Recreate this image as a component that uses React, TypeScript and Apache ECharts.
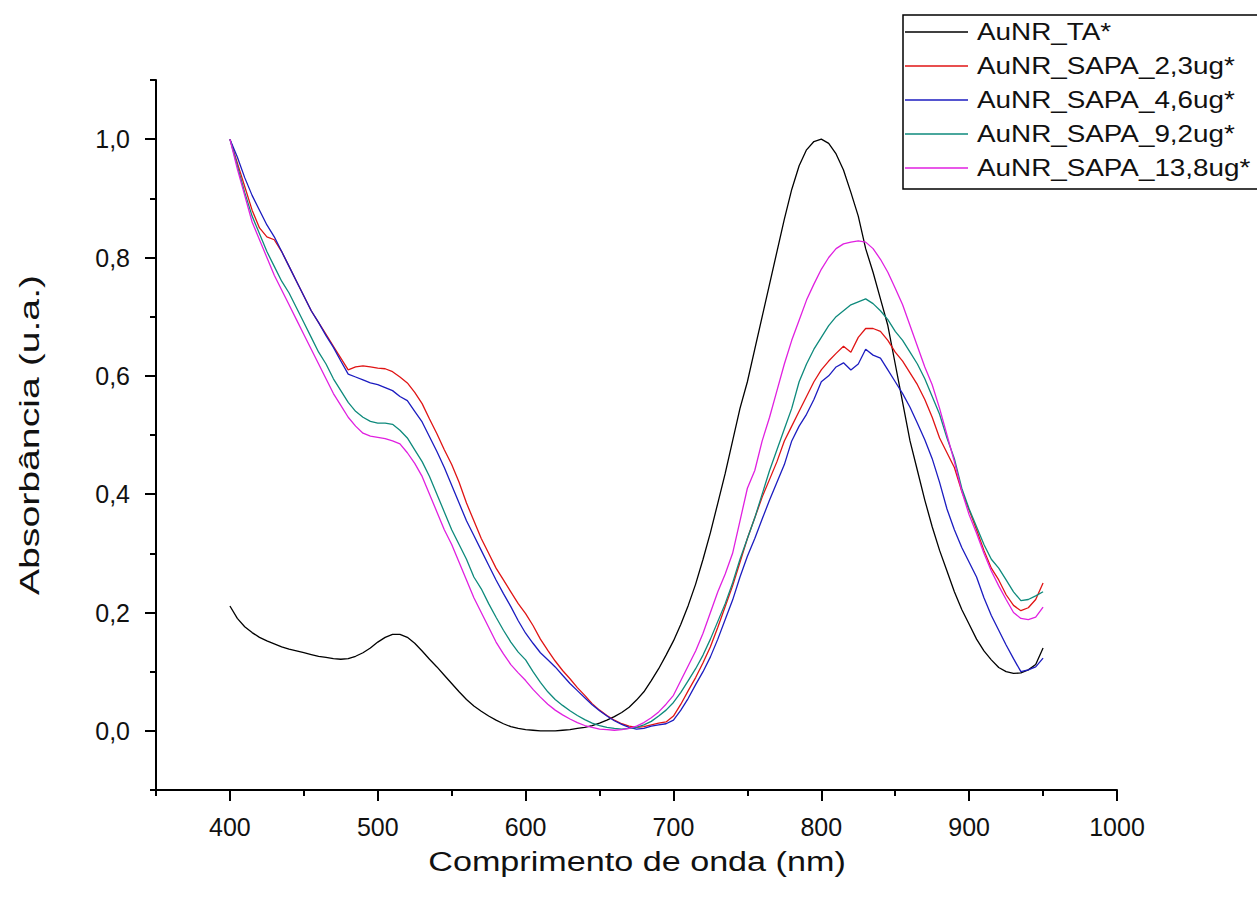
import React, { useEffect, useRef } from "react";
import * as echarts from "echarts";

const wavelengths: number[] = [];
for (let w = 400; w <= 950; w += 5) wavelengths.push(w);

const seriesNames = [
  "AuNR_TA*",
  "AuNR_SAPA_2,3ug*",
  "AuNR_SAPA_4,6ug*",
  "AuNR_SAPA_9,2ug*",
  "AuNR_SAPA_13,8ug*",
];
const seriesColors = ["#000000", "#e01414", "#1c1cc0", "#0e8a7c", "#e020e0"];

// 400..950 step 5
const taValues = [
  0.211, 0.19, 0.176, 0.166, 0.158, 0.152, 0.147, 0.142, 0.138, 0.135,
  0.132, 0.129, 0.126, 0.124, 0.122, 0.121, 0.122, 0.126, 0.132, 0.14,
  0.15, 0.158, 0.163, 0.163, 0.158, 0.148, 0.135, 0.121, 0.108, 0.094,
  0.08, 0.066, 0.053, 0.042, 0.033, 0.025, 0.018, 0.012, 0.007, 0.004,
  0.002, 0.001, 0.0, 0.0, 0.0, 0.001, 0.002, 0.004, 0.006, 0.009,
  0.013, 0.018, 0.024, 0.031, 0.04, 0.052, 0.066, 0.085, 0.105, 0.128,
  0.152, 0.18, 0.212, 0.248, 0.29, 0.335, 0.385, 0.435, 0.49, 0.545,
  0.59, 0.645, 0.7, 0.755, 0.81, 0.865, 0.915, 0.955, 0.982, 0.996,
  1.0, 0.993, 0.975, 0.948, 0.91, 0.87, 0.815, 0.775, 0.73, 0.685,
  0.62, 0.555, 0.49, 0.44, 0.39, 0.345, 0.305, 0.27, 0.235, 0.205,
  0.18, 0.155, 0.135, 0.12, 0.107, 0.1, 0.097, 0.098, 0.103, 0.112,
  0.14,
];
const sapa23Values = [
  1.0, 0.96, 0.92, 0.88, 0.85, 0.835, 0.83, 0.81, 0.785, 0.76,
  0.735, 0.71, 0.69, 0.67, 0.65, 0.63, 0.61, 0.615, 0.617, 0.615,
  0.613, 0.612, 0.607, 0.598, 0.588, 0.572, 0.553, 0.527, 0.502, 0.475,
  0.45, 0.42, 0.385, 0.355, 0.325, 0.3, 0.275, 0.255, 0.235, 0.215,
  0.198, 0.178, 0.155, 0.136, 0.118, 0.102, 0.088, 0.073, 0.06, 0.046,
  0.035, 0.026, 0.018, 0.012, 0.008, 0.006, 0.007, 0.01, 0.013, 0.015,
  0.025, 0.045, 0.068, 0.09, 0.115, 0.142, 0.175, 0.21, 0.245, 0.285,
  0.325, 0.36, 0.395, 0.425, 0.455, 0.49, 0.515, 0.54, 0.565, 0.59,
  0.61, 0.625, 0.638, 0.65, 0.64, 0.665, 0.68, 0.68, 0.675, 0.66,
  0.64, 0.625, 0.605, 0.585, 0.56, 0.53, 0.495, 0.47, 0.445, 0.405,
  0.373, 0.34, 0.305, 0.275, 0.255, 0.23, 0.212, 0.203, 0.208, 0.222,
  0.25,
];
const sapa46Values = [
  1.0, 0.97, 0.935, 0.905, 0.88, 0.855, 0.835, 0.81, 0.785, 0.76,
  0.735, 0.71, 0.69, 0.668, 0.648, 0.625, 0.603, 0.598, 0.593, 0.588,
  0.585, 0.58, 0.575, 0.565, 0.558, 0.54, 0.522, 0.497, 0.472, 0.445,
  0.415, 0.385, 0.355, 0.33, 0.305, 0.28, 0.255, 0.232, 0.21, 0.186,
  0.165, 0.148, 0.132, 0.12, 0.108, 0.094, 0.08, 0.068, 0.056, 0.044,
  0.034, 0.025, 0.017, 0.011, 0.006, 0.003, 0.004, 0.008, 0.01, 0.012,
  0.018, 0.035, 0.055, 0.078, 0.1, 0.125, 0.155, 0.188, 0.221, 0.26,
  0.295, 0.325, 0.358, 0.39, 0.42, 0.45, 0.49, 0.515, 0.535, 0.56,
  0.59, 0.6, 0.615, 0.622, 0.61, 0.62, 0.645, 0.635, 0.63, 0.61,
  0.59, 0.57, 0.547, 0.52, 0.492, 0.46, 0.42, 0.375, 0.34, 0.31,
  0.285, 0.26, 0.225, 0.195, 0.17, 0.145, 0.122, 0.1, 0.103, 0.108,
  0.123,
];
const sapa92Values = [
  1.0, 0.955, 0.91, 0.87, 0.84, 0.81, 0.785, 0.76, 0.74, 0.715,
  0.69, 0.665, 0.64, 0.62, 0.595, 0.575, 0.555, 0.54, 0.53, 0.523,
  0.52, 0.52, 0.518, 0.508, 0.495, 0.475, 0.455, 0.43, 0.4, 0.37,
  0.34, 0.315, 0.29, 0.26, 0.24, 0.215, 0.192, 0.17, 0.15, 0.133,
  0.12, 0.1, 0.082, 0.066, 0.053, 0.043, 0.034, 0.026, 0.019, 0.013,
  0.009, 0.006, 0.004, 0.003, 0.004, 0.006, 0.01, 0.016, 0.025, 0.035,
  0.048, 0.065, 0.085, 0.105, 0.128, 0.155, 0.185, 0.215, 0.25, 0.29,
  0.325, 0.36, 0.4, 0.44, 0.475, 0.51, 0.545, 0.59, 0.62, 0.645,
  0.665, 0.685, 0.7, 0.71, 0.72, 0.725, 0.73, 0.722, 0.71, 0.695,
  0.675, 0.66, 0.64, 0.62, 0.595, 0.565, 0.535, 0.495, 0.46, 0.41,
  0.375, 0.345, 0.315, 0.29, 0.275, 0.255, 0.235, 0.22, 0.222, 0.228,
  0.235,
];
const sapa138Values = [
  1.0, 0.95, 0.905, 0.86, 0.83, 0.8, 0.77, 0.745, 0.72, 0.695,
  0.67, 0.645, 0.62, 0.595, 0.57, 0.55, 0.53, 0.515, 0.503, 0.498,
  0.496, 0.494, 0.49, 0.485, 0.47, 0.452, 0.43, 0.4, 0.37, 0.34,
  0.315, 0.285, 0.255, 0.225, 0.2, 0.175, 0.15, 0.13, 0.112, 0.098,
  0.085, 0.07, 0.057, 0.045, 0.035, 0.027, 0.02, 0.014, 0.009, 0.006,
  0.003, 0.002, 0.001, 0.002, 0.004, 0.008, 0.014, 0.022, 0.032, 0.045,
  0.06, 0.085, 0.11, 0.135, 0.165, 0.2, 0.235, 0.265, 0.3, 0.355,
  0.41, 0.44, 0.49, 0.53, 0.575, 0.62, 0.66, 0.694, 0.728, 0.755,
  0.78, 0.8, 0.815, 0.823, 0.826, 0.828, 0.826, 0.815, 0.797, 0.775,
  0.748, 0.72, 0.685, 0.65, 0.615, 0.585, 0.545, 0.5, 0.455, 0.405,
  0.365, 0.334, 0.3, 0.27, 0.245, 0.222, 0.2, 0.19, 0.188, 0.192,
  0.209,
];
const allValues = [taValues, sapa23Values, sapa46Values, sapa92Values, sapa138Values];

const xMajorTicks = [400, 500, 600, 700, 800, 900, 1000];
const yMajorTicks = [0, 0.2, 0.4, 0.6, 0.8, 1.0];
const xTitle = "Comprimento de onda (nm)";
const yTitle = "Absorbância (u.a.)";

const FONT = "Liberation Sans, Arial, sans-serif";

export default function App() {
  const ref = useRef<HTMLDivElement>(null);
  useEffect(() => {
    if (!ref.current) return;
    const chart = echarts.init(ref.current, null, { renderer: "svg" });
    const axisLine = { show: true, onZero: false, lineStyle: { color: "#000", width: 2 } };

    const legendTop = 15;
    const legendRow0 = 32;
    const legendRowGap = 34;
    const legendElements: any[] = [
      {
        type: "rect",
        shape: { x: 903, y: legendTop, width: 420, height: 174 },
        style: { fill: "#fff", stroke: "#000", lineWidth: 1.5 },
        z: 10,
      },
    ];
    seriesNames.forEach((name, i) => {
      const cy = legendRow0 + i * legendRowGap;
      legendElements.push({
        type: "line",
        shape: { x1: 905, y1: cy, x2: 968, y2: cy },
        style: { stroke: seriesColors[i], lineWidth: 1.5 },
        z: 11,
      });
      legendElements.push({
        type: "text",
        x: 977,
        y: cy,
        scaleX: 1.16,
        style: {
          text: name,
          fontSize: 24,
          fontFamily: FONT,
          fill: "#111",
          align: "left",
          verticalAlign: "middle",
        },
        z: 11,
      });
    });

    chart.setOption({
      animation: false,
      backgroundColor: "#ffffff",
      textStyle: { fontFamily: FONT },
      grid: { left: 156, top: 80, width: 961, height: 710 },
      graphic: [
        ...legendElements,
        {
          type: "text",
          x: 637,
          y: 862,
          scaleX: 1.22,
          style: {
            text: xTitle,
            fontSize: 28,
            fontFamily: FONT,
            fill: "#111",
            align: "center",
            verticalAlign: "middle",
          },
        },
        {
          type: "text",
          x: 29,
          y: 435,
          rotation: Math.PI / 2,
          scaleX: 1.4,
          style: {
            text: yTitle,
            fontSize: 28,
            fontFamily: FONT,
            fill: "#111",
            align: "center",
            verticalAlign: "middle",
          },
        },
      ],
      xAxis: [
        {
          type: "value",
          min: 350,
          max: 1000,
          interval: 50,
          axisLine,
          axisTick: { show: true, inside: false, length: 11, lineStyle: { color: "#000", width: 2 }, customValues: xMajorTicks },
          axisLabel: { fontSize: 25, color: "#111", margin: 24, customValues: xMajorTicks, formatter: (v: number) => String(v) },
          splitLine: { show: false },
        },
        {
          type: "value",
          min: 350,
          max: 1000,
          interval: 50,
          position: "bottom",
          axisLine: { show: false, onZero: false },
          axisTick: { show: true, length: 6, lineStyle: { color: "#000", width: 2 } },
          axisLabel: { show: false },
          splitLine: { show: false },
        },
      ],
      yAxis: [
        {
          type: "value",
          min: -0.1,
          max: 1.1,
          interval: 0.1,
          axisLine,
          axisTick: { show: true, length: 11, lineStyle: { color: "#000", width: 2 }, customValues: yMajorTicks },
          axisLabel: {
            fontSize: 25,
            color: "#111",
            margin: 26,
            customValues: yMajorTicks,
            formatter: (v: number) => v.toFixed(1).replace(".", ","),
          },
          splitLine: { show: false },
        },
        {
          type: "value",
          min: -0.1,
          max: 1.1,
          interval: 0.1,
          position: "left",
          axisLine: { show: false, onZero: false },
          axisTick: { show: true, length: 6, lineStyle: { color: "#000", width: 2 } },
          axisLabel: { show: false },
          splitLine: { show: false },
        },
      ],
      series: seriesNames.map((name, i) => ({
        name,
        type: "line",
        xAxisIndex: 0,
        yAxisIndex: 0,
        showSymbol: false,
        symbol: "none",
        smooth: false,
        color: seriesColors[i],
        lineStyle: { width: 1.3, color: seriesColors[i] },
        data: wavelengths.map((w, j) => [w, allValues[i][j]]),
      })),
    });
    return () => chart.dispose();
  }, []);
  return (
    <div
      ref={ref}
      style={{ position: "fixed", left: 0, top: 0, width: 1257, height: 897, background: "#fff" }}
    />
  );
}
